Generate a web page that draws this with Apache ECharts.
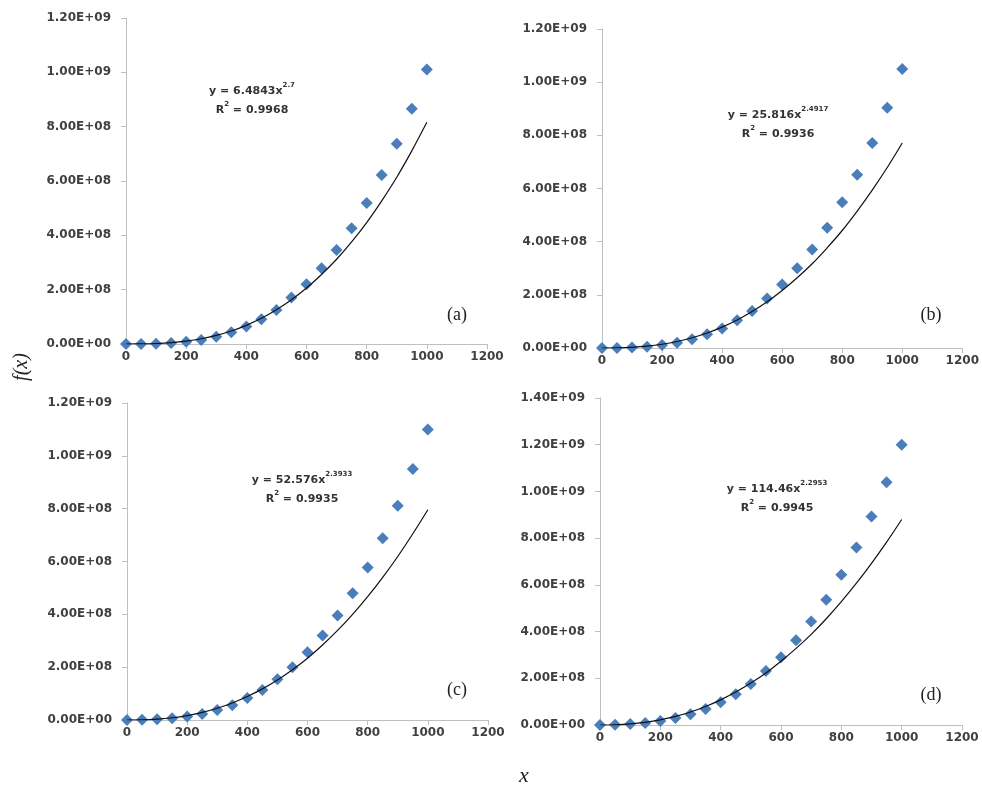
<!DOCTYPE html>
<html>
<head>
<meta charset="utf-8">
<script src="https://cdn.jsdelivr.net/npm/echarts@6/dist/echarts.min.js"></script>
<style>
  html, body { margin: 0; padding: 0; background: #fff; }
  #chart { width: 982px; height: 786px; }
</style>
</head>
<body>
<div id="chart"></div>
<script>
// x 取值（四个子图共用）
var xValues = [0, 50, 100, 150, 200, 250, 300, 350, 400, 450, 500,
    550, 600, 650, 700, 750, 800, 850, 900, 950, 1000];

// (a) 数据点与幂函数趋势线
var pointsA = [0, 0, 1e6, 4e6, 8e6, 1.5e7, 2.7e7, 4.3e7, 6.4e7, 9.1e7, 1.25e8,
    1.71e8, 2.2e8, 2.79e8, 3.46e8, 4.26e8, 5.19e8, 6.22e8, 7.37e8, 8.66e8, 1.01e9];
var trendA = [0, 2.5e5, 1.6e6, 4.9e6, 1.06e7, 1.93e7, 3.16e7, 4.79e7, 6.87e7, 9.46e7, 1.26e8,
    1.63e8, 2.06e8, 2.56e8, 3.12e8, 3.76e8, 4.47e8, 5.27e8, 6.14e8, 7.11e8, 8.16e8];

// (b)
var pointsB = [0, 0, 2e6, 5e6, 1.1e7, 2e7, 3.3e7, 5.2e7, 7.3e7, 1.04e8, 1.39e8,
    1.86e8, 2.39e8, 3.0e8, 3.71e8, 4.52e8, 5.48e8, 6.52e8, 7.71e8, 9.04e8, 1.05e9];
var trendB = [0, 4.4e5, 2.5e6, 6.8e6, 1.4e7, 2.44e7, 3.84e7, 5.64e7, 7.87e7, 1.054e8, 1.371e8,
    1.738e8, 2.16e8, 2.64e8, 3.17e8, 3.77e8, 4.42e8, 5.15e8, 5.94e8, 6.79e8, 7.71e8];

// (c)
var pointsC = [0, 1e6, 3e6, 7e6, 1.3e7, 2.3e7, 3.8e7, 5.6e7, 8.3e7, 1.14e8, 1.54e8,
    2.0e8, 2.56e8, 3.2e8, 3.96e8, 4.8e8, 5.77e8, 6.88e8, 8.11e8, 9.5e8, 1.10e9];
var trendC = [0, 6.1e5, 3.2e6, 8.5e6, 1.69e7, 2.89e7, 4.46e7, 6.46e7, 8.89e7, 1.178e8, 1.516e8,
    1.904e8, 2.34e8, 2.84e8, 3.39e8, 4.0e8, 4.67e8, 5.4e8, 6.19e8, 7.05e8, 7.96e8];

// (d)
var pointsD = [0, 1e6, 4e6, 9e6, 1.7e7, 3.0e7, 4.6e7, 6.9e7, 9.7e7, 1.32e8, 1.76e8,
    2.31e8, 2.9e8, 3.63e8, 4.43e8, 5.36e8, 6.43e8, 7.6e8, 8.93e8, 1.039e9, 1.20e9];
var trendD = [0, 9.1e5, 4.5e6, 1.13e7, 2.19e7, 3.66e7, 5.56e7, 7.92e7, 1.076e8, 1.409e8, 1.795e8,
    2.23e8, 2.73e8, 3.28e8, 3.88e8, 4.55e8, 5.28e8, 6.07e8, 6.92e8, 7.83e8, 8.8e8];

// 趋势线公式文字
var equations = [
    {coef: '6.4843', power: '2.7', r2: '0.9968'},
    {coef: '25.816', power: '2.4917', r2: '0.9936'},
    {coef: '52.576', power: '2.3933', r2: '0.9935'},
    {coef: '114.46', power: '2.2953', r2: '0.9945'}
];
var panelNames = ['(a)', '(b)', '(c)', '(d)'];
var yMaxes = [1.2e9, 1.2e9, 1.2e9, 1.4e9];

var pointSets = [pointsA, pointsB, pointsC, pointsD];
var trendSets = [trendA, trendB, trendC, trendD];

// 子图位置
var grids = [
    {left: 126, top: 18, width: 361, height: 326},
    {left: 602, top: 29, width: 362, height: 319},
    {left: 127, top: 403, width: 361, height: 317},
    {left: 600, top: 398, width: 362, height: 327}
];
var eqPos = [[252, 82], [778, 106], [302, 471], [777, 480]];
var tagPos = [[457, 315], [931, 315], [457, 690], [931, 695]];

var axisGray = '#bfbfbf';
var labelColor = '#404040';

// 0.00E+00 样式的科学计数
function sci(v) {
    if (v === 0) {
        return '0.00E+00';
    }
    var e = Math.floor(Math.log10(v) + 1e-9);
    var m = v / Math.pow(10, e);
    return m.toFixed(2) + 'E+' + (e < 10 ? '0' : '') + e;
}

function pairs(ys) {
    return xValues.map(function (x, i) {
        return [x, ys[i]];
    });
}

var chart = echarts.init(document.getElementById('chart'));

var option = {
    animation: false,
    backgroundColor: '#ffffff',
    grid: grids.map(function (g) {
        return {left: g.left, top: g.top, width: g.width, height: g.height, containLabel: false};
    }),
    xAxis: grids.map(function (g, i) {
        return {
            type: 'value',
            gridIndex: i,
            min: 0,
            max: 1200,
            interval: 200,
            splitLine: {show: false},
            axisLine: {onZero: false, lineStyle: {color: axisGray, width: 1}},
            axisTick: {show: true, length: 5, lineStyle: {color: axisGray}},
            axisLabel: {
                margin: 7,
                color: labelColor,
                fontFamily: 'DejaVu Sans',
                fontWeight: 'bold',
                fontSize: 12,
                formatter: function (v) {
                    return String(v);
                }
            }
        };
    }),
    yAxis: grids.map(function (g, i) {
        return {
            type: 'value',
            gridIndex: i,
            min: 0,
            max: yMaxes[i],
            interval: 2e8,
            splitLine: {show: false},
            axisLine: {show: true, onZero: false, lineStyle: {color: axisGray, width: 1}},
            axisTick: {show: true, length: 5, lineStyle: {color: axisGray}},
            axisLabel: {
                margin: 15,
                color: labelColor,
                fontFamily: 'DejaVu Sans',
                fontWeight: 'bold',
                fontSize: 12,
                formatter: sci
            }
        };
    }),
    series: [],
    graphic: []
};

pointSets.forEach(function (pts, i) {
    option.series.push({
        type: 'scatter',
        xAxisIndex: i,
        yAxisIndex: i,
        symbol: 'diamond',
        symbolSize: 12,
        itemStyle: {color: '#4a7ebb', opacity: 1},
        data: pairs(pts),
        z: 2
    });
    option.series.push({
        type: 'line',
        xAxisIndex: i,
        yAxisIndex: i,
        smooth: 0.4,
        showSymbol: false,
        lineStyle: {color: '#111111', width: 1.2},
        data: pairs(trendSets[i]),
        z: 3
    });
});

equations.forEach(function (eq, i) {
    option.graphic.push({
        type: 'text',
        x: eqPos[i][0],
        y: eqPos[i][1],
        style: {
            text: '{a|y = ' + eq.coef + 'x}{b|' + eq.power + '}\n{a|R}{b|2}{a| = ' + eq.r2 + '}',
            align: 'center',
            textAlign: 'center',
            verticalAlign: 'top',
            textVerticalAlign: 'top',
            rich: {
                a: {fontFamily: 'DejaVu Sans', fontWeight: 'bold', fontSize: 11, lineHeight: 19, fill: '#333333', color: '#333333'},
                b: {fontFamily: 'DejaVu Sans', fontWeight: 'bold', fontSize: 7, lineHeight: 12, verticalAlign: 'top', fill: '#333333', color: '#333333'}
            }
        }
    });
    option.graphic.push({
        type: 'text',
        x: tagPos[i][0],
        y: tagPos[i][1],
        style: {
            text: panelNames[i],
            align: 'center',
            textAlign: 'center',
            verticalAlign: 'middle',
            textVerticalAlign: 'middle',
            font: '18px "Liberation Serif"',
            fill: '#222222'
        }
    });
});

// 坐标轴标题
option.graphic.push({
    type: 'text',
    x: 22,
    y: 367,
    rotation: Math.PI / 2,
    style: {
        text: 'f(x)',
        align: 'center',
        textAlign: 'center',
        verticalAlign: 'middle',
        textVerticalAlign: 'middle',
        font: 'italic 20px "Liberation Serif"',
        fill: '#222222'
    }
});
option.graphic.push({
    type: 'text',
    x: 524,
    y: 776,
    style: {
        text: 'x',
        align: 'center',
        textAlign: 'center',
        verticalAlign: 'middle',
        textVerticalAlign: 'middle',
        font: 'italic 22px "Liberation Serif"',
        fill: '#222222'
    }
});

chart.setOption(option);
</script>
</body>
</html>
